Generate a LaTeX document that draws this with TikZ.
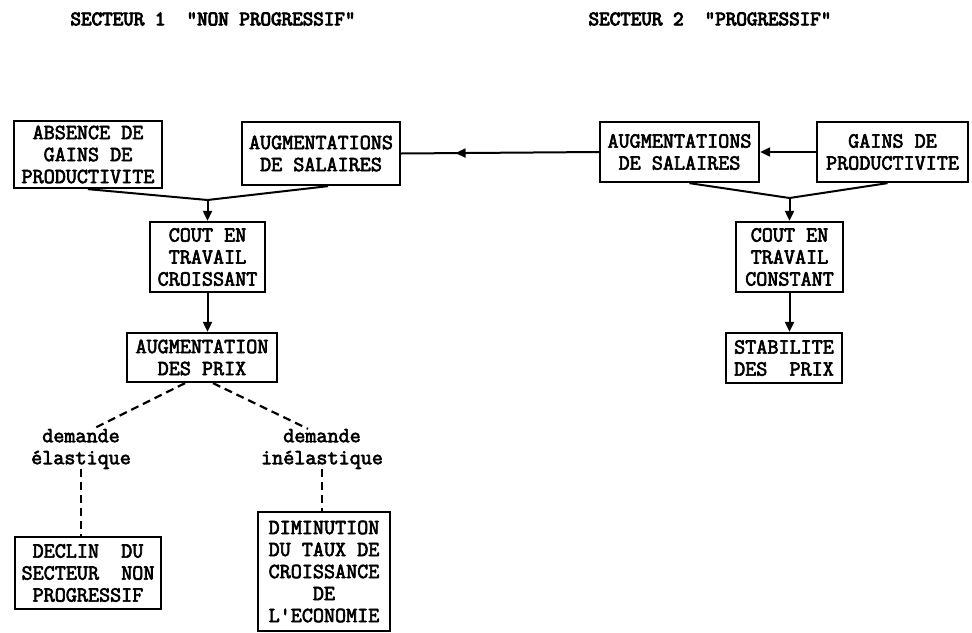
\documentclass[tikz,border=0pt]{standalone}
\usepackage{fontspec}
\newfontfamily\boxfont[FakeBold=3]{Latin Modern Mono}
\newfontfamily\ttlfont[FakeBold=4.5]{Latin Modern Mono}
\usetikzlibrary{arrows.meta,calc,decorations.markings}
\begin{document}
\begin{tikzpicture}[x=1pt,y=-1pt,
  box/.style={draw,line width=2.3pt,inner sep=0pt,align=center,font=\boxfont\fontsize{21.5}{22}\selectfont},
  lab/.style={inner sep=0pt,align=center,font=\boxfont\fontsize{21.5}{22}\selectfont},
  ttl/.style={inner sep=0pt,font=\ttlfont\fontsize{20.5}{22}\selectfont},
  conn/.style={line width=2pt},
  tip/.style={-{Triangle[length=10pt,width=9pt]}},
  arr/.style={conn,tip},
  dsh/.style={line width=2.2pt,dash pattern=on 8pt off 5pt}]
\useasboundingbox (0,0) rectangle (972,632);
% titles
\node[ttl] (t1) at (213,19) {SECTEUR 1\ \ "NON PROGRESSIF"};
\node[ttl] (t2) at (710,19) {SECTEUR 2\ \ "PROGRESSIF"};
% boxes
\node[box,minimum width=148pt,minimum height=67pt] (abs) at (88,154.5) {ABSENCE DE\\GAINS DE\\PRODUCTIVITE};
\node[box,minimum width=158pt,minimum height=63pt] (augL) at (321,153.5) {AUGMENTATIONS\\DE SALAIRES};
\node[box,minimum width=159pt,minimum height=60pt] (augR) at (679.5,152) {AUGMENTATIONS\\DE SALAIRES};
\node[box,minimum width=151pt,minimum height=60pt] (gains) at (892.5,152) {GAINS DE\\PRODUCTIVITE};
\node[box,minimum width=115pt,minimum height=70pt] (coutL) at (207.5,257) {COUT EN\\TRAVAIL\\CROISSANT};
\node[box,minimum width=107pt,minimum height=70pt] (coutR) at (789.5,257) {COUT EN\\TRAVAIL\\CONSTANT};
\node[box,minimum width=150pt,minimum height=49pt] (prix) at (202,357.5) {AUGMENTATION\\DES PRIX};
\node[box,minimum width=116pt,minimum height=50pt] (stab) at (784,358) {STABILITE\\DES\ \ PRIX};
\node[box,minimum width=146pt,minimum height=72pt] (declin) at (88,573) {DECLIN\ \ DU\\SECTEUR\ \ NON\\PROGRESSIF};
\node[box,minimum width=132pt,minimum height=119pt] (dimin) at (324,571.5) {DIMINUTION\\DU TAUX DE\\CROISSANCE\\DE\\L'ECONOMIE};
% labels
\node[lab] (lab1) at (81,449) {demande\\élastique};
\node[lab] (lab2) at (322,449) {demande\\inélastique};
% connectors
\draw[conn,postaction={decorate},decoration={markings,mark=at position 0.725 with {\arrow{Triangle[length=10pt,width=9pt]}}}] (augR.west) -- (augL.east);
\draw[arr] (gains.west) -- (augR.east);
\coordinate (j1) at (207.5,200);
\draw[conn] (abs.south) -- (j1);
\draw[conn] ($(augL.south)+(7,0)$) -- (j1);
\draw[arr] (j1) -- (coutL.north);
\coordinate (j2) at (789.5,198);
\draw[conn] ($(augR.south)+(10,0)$) -- (j2);
\draw[conn] ($(gains.south)+(-5,0)$) -- (j2);
\draw[arr] (j2) -- (coutR.north);
\draw[arr] (coutL.south) -- (coutL.south |- prix.north);
\draw[arr] (coutR.south) -- (coutR.south |- stab.north);
\draw[dsh] ($(prix.south)+(-17,0)$) -- ($(lab1.north)+(12,0)$);
\draw[dsh] ($(prix.south)+(11,0)$) -- ($(lab2.north)+(-14,0)$);
\draw[dsh] (lab1.south) -- (lab1.south |- declin.north);
\draw[dsh] (lab2.south) -- (lab2.south |- dimin.north);
\end{tikzpicture}
\end{document}
